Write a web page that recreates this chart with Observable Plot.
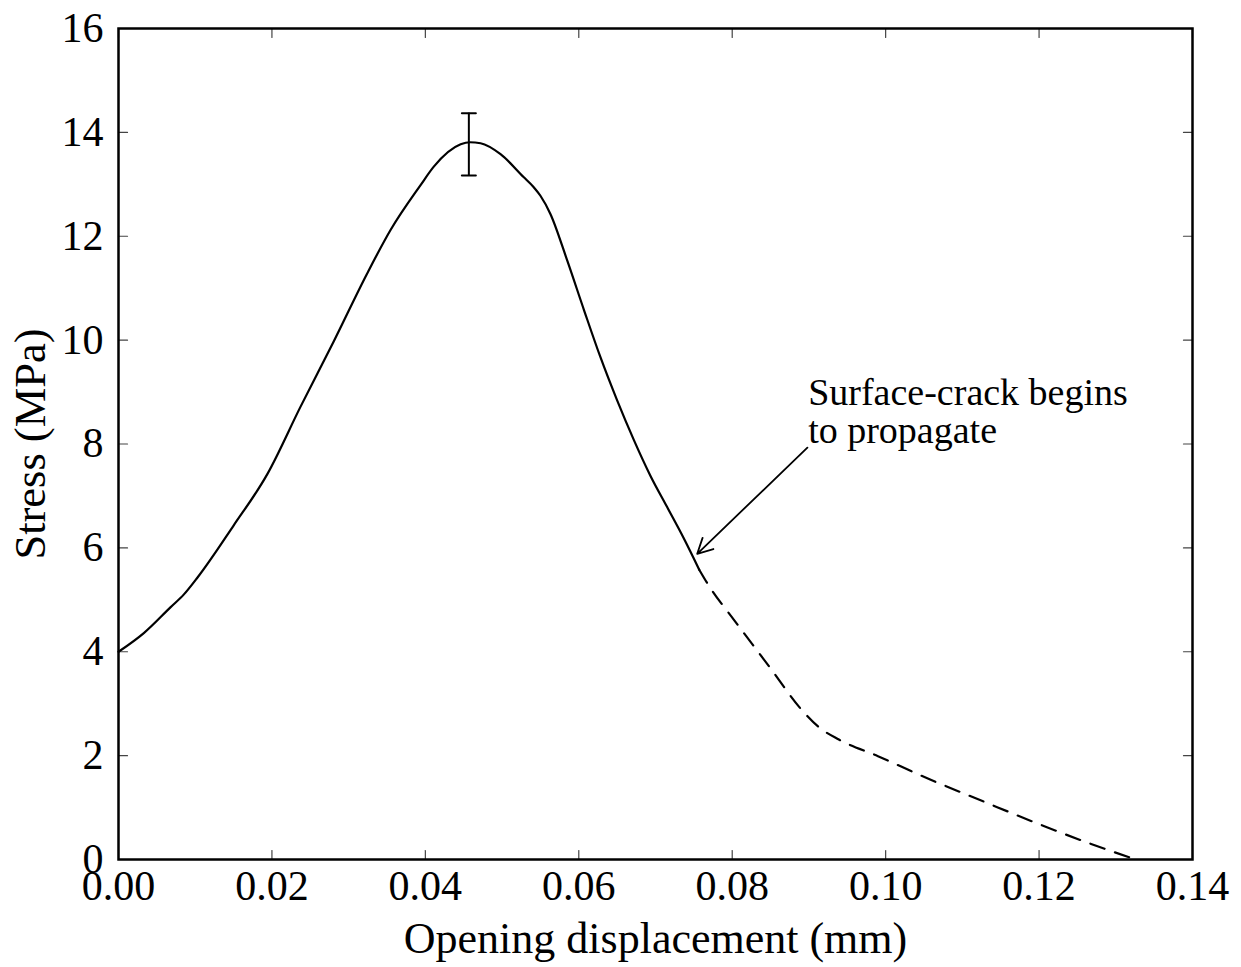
<!DOCTYPE html>
<html>
<head>
<meta charset="utf-8">
<script src="https://cdn.jsdelivr.net/npm/d3@7"></script>
<script src="https://cdn.jsdelivr.net/npm/@observablehq/plot@0.6"></script>
<style>
  html, body { margin: 0; padding: 0; background: white; }
</style>
</head>
<body>
<div id="chart"></div>
<script>
// ---- data ----
const solidX = [0, 0.0033, 0.0068, 0.0085, 0.0103, 0.0150, 0.0194, 0.0237, 0.0281, 0.0324, 0.0355, 0.0394, 0.0411, 0.0446, 0.0458, 0.0472, 0.0498, 0.0528, 0.0541, 0.0550, 0.0563, 0.0585, 0.0607, 0.0628, 0.0650, 0.0672, 0.0693, 0.0715, 0.0737, 0.0757];
const solidY = [4.0, 4.36, 4.86, 5.10, 5.43, 6.43, 7.42, 8.71, 9.99, 11.28, 12.13, 12.99, 13.34, 13.77, 13.81, 13.79, 13.58, 13.14, 12.95, 12.78, 12.43, 11.53, 10.57, 9.68, 8.84, 8.07, 7.40, 6.79, 6.18, 5.58];

const dashX = [0.0757, 0.0770, 0.0802, 0.0848, 0.0893, 0.0912, 0.0939, 0.0990, 0.1058, 0.1127, 0.1195, 0.1264, 0.1326];
const dashY = [5.58, 5.26, 4.62, 3.72, 2.84, 2.56, 2.31, 1.99, 1.54, 1.12, 0.71, 0.32, 0.0];

const errX = [0.04567];
const errLow = [13.17];
const errHigh = [14.37];

const xTicks = [0, 0.02, 0.04, 0.06, 0.08, 0.10, 0.12, 0.14];
const yTicks = [0, 2, 4, 6, 8, 10, 12, 14, 16];

const annText = ["Surface-crack begins\nto propagate"];
const annTextX = [0.0899];
const annTextY = [9.27];
const arrowFrom = [{x: 0.0898, y: 7.93}];
const arrowTo = [{x: 0.07544, y: 5.886}];

const xLabel = "Opening displacement (mm)";
const yLabel = "Stress (MPa)";

// ---- tables built from the arrays ----
const solid = solidX.map((x, i) => ({x, y: solidY[i]}));
const dashed = dashX.map((x, i) => ({x, y: dashY[i]}));
const errs = errX.map((x, i) => ({x, lo: errLow[i], hi: errHigh[i]}));
const ann = annText.map((t, i) => ({t, x: annTextX[i], y: annTextY[i]}));
const arrows = arrowFrom.map((a, i) => ({x1: a.x, y1: a.y, x2: arrowTo[i].x, y2: arrowTo[i].y}));

const lineShape = { draw(context, l) { context.moveTo(0, 0); context.lineTo(0, -l); } };
const tickStyle = {length: 9, anchor: "start", shape: lineShape, stroke: "#444", strokeWidth: 1.2};

const chart = Plot.plot({
  width: 1241,
  height: 967,
  marginLeft: 118,
  marginRight: 49,
  marginTop: 28,
  marginBottom: 108,
  x: {domain: [0, 0.14]},
  y: {domain: [0, 16]},
  style: {fontFamily: "'Liberation Serif', 'DejaVu Serif', serif", fontSize: "42px", color: "black", background: "white"},
  marks: [
    // inward ticks on all four sides
    Plot.vector(xTicks, {...tickStyle, x: d => d, y: () => 0, rotate: 0}),
    Plot.vector(xTicks, {...tickStyle, x: d => d, y: () => 16, rotate: 180}),
    Plot.vector(yTicks, {...tickStyle, x: () => 0, y: d => d, rotate: 90}),
    Plot.vector(yTicks, {...tickStyle, x: () => 0.14, y: d => d, rotate: -90}),
    // tick labels
    Plot.axisX(xTicks, {tickSize: 0, tickPadding: 11, tickFormat: d3.format(".2f"), label: null, fontSize: 42}),
    Plot.axisY(yTicks, {tickSize: 0, tickPadding: 15, tickFormat: d3.format("d"), label: null, fontSize: 42}),
    // axis labels
    Plot.text([xLabel], {text: d => d, frameAnchor: "bottom", lineAnchor: "middle", textAnchor: "middle", dy: 79, fontSize: 44}),
    Plot.text([yLabel], {text: d => d, frameAnchor: "left", lineAnchor: "middle", textAnchor: "middle", rotate: -90, dx: -88, fontSize: 44.5}),
    // curves
    Plot.line(solid, {x: "x", y: "y", stroke: "black", strokeWidth: 2.2, curve: "monotone-x"}),
    Plot.line(dashed, {x: "x", y: "y", stroke: "black", strokeWidth: 2.2, strokeDasharray: "15,11", curve: "monotone-x"}),
    // error bar
    Plot.ruleX(errs, {x: "x", y1: "lo", y2: "hi", stroke: "black", strokeWidth: 2}),
    Plot.vector(errs, {x: "x", y: "lo", rotate: 90, length: 14, anchor: "middle", shape: lineShape, stroke: "black", strokeWidth: 2}),
    Plot.vector(errs, {x: "x", y: "hi", rotate: 90, length: 14, anchor: "middle", shape: lineShape, stroke: "black", strokeWidth: 2}),
    // annotation
    Plot.arrow(arrows, {x1: "x1", y1: "y1", x2: "x2", y2: "y2", stroke: "black", strokeWidth: 1.8, headLength: 14, headAngle: 55}),
    Plot.text(ann, {x: "x", y: "y", text: "t", textAnchor: "start", lineAnchor: "top", fontSize: 38, lineHeight: 1.0}),
    Plot.frame({stroke: "black", strokeWidth: 2.5})
  ]
});
document.getElementById("chart").appendChild(chart);
</script>
</body>
</html>
